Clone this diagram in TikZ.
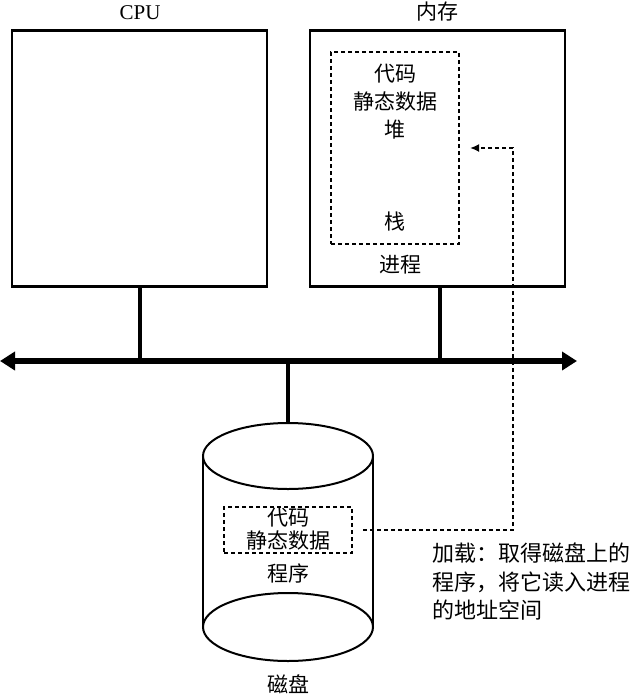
\documentclass[tikz,border=0pt]{standalone}
\usepackage{fontspec}
\setmainfont{Liberation Serif}
\newfontfamily\cjk{Noto Sans CJK SC}
\usetikzlibrary{arrows.meta,positioning,calc}
\definecolor{ink}{HTML}{000000}
\newcommand{\BoxW}{255pt}
\newcommand{\BoxH}{256pt}
\newcommand{\BusY}{361}

\begin{document}
\begin{tikzpicture}[x=1pt, y=-1pt, ink,
  box/.style={draw, line width=2.4pt, minimum width=\BoxW, minimum height=\BoxH, inner sep=0pt},
  segbox/.style={draw, line width=2pt, dash pattern=on 4pt off 3pt, inner sep=0pt},
  cn/.style={font=\cjk\fontsize{21}{28}\selectfont, inner sep=0pt, align=center},
  load/.style={line width=1.9pt, dash pattern=on 4pt off 3pt},
  bus/.style={line width=6pt, {Triangle[length=15pt,width=18pt]}-{Triangle[length=15pt,width=18pt]}},
  stub/.style={line width=4pt}]

\useasboundingbox (0,0) rectangle (637,697);

% --- CPU and memory ------------------------------------------------------------
\node[box] (cpu) at (139.5,158.5) {};
\node[font=\fontsize{21}{24}\selectfont, inner sep=0pt] (cpulbl) at (140,13) {CPU};
\node[box] (mem) at (437.5,158.5) {};
\node[cn] (memlbl) at (437,12) {内存};

% --- The process inside memory -------------------------------------------------
\node[segbox, minimum width=128pt, minimum height=192pt] (seg) at (395,148) {};
\node[cn] (segtop) at (395,102) {代码\\静态数据\\堆};
\node[cn] (stack) at (395,222) {栈};
\node[cn] (proc) at (400,265) {进程};

% --- Bus -----------------------------------------------------------------------
\coordinate (busL) at (0,\BusY);
\coordinate (busR) at (577,\BusY);
\coordinate (disktop) at (288,423);
\draw[bus] (busL) -- (busR);
\draw[stub] (cpu.south) -- (cpu.south |- busL);
\draw[stub] ([xshift=2.5pt]mem.south) -- ([xshift=2.5pt]mem.south |- busL);
\draw[stub] (disktop) -- (disktop |- busL);

% --- Disk ----------------------------------------------------------------------
\draw[line width=2pt] (288,456) ellipse [x radius=85, y radius=33];
\draw[line width=2pt] (288,627) ellipse [x radius=85, y radius=34];
\draw[line width=2pt] (203,456) -- (203,627) (373,456) -- (373,627);
\node[segbox, minimum width=128pt, minimum height=46pt] (dseg) at (288,530) {};
\node[cn] (dcode) at (288,518) {代码};
\node[cn] (ddata) at (288,541) {静态数据};
\node[cn] (prog) at (288,573) {程序};
\node[cn] (disklbl) at (288,684) {磁盘};

% --- Loading: disk program into the process --------------------------------------
\draw[load, -{Latex[length=9pt,width=8pt]}] ([xshift=10pt]dseg.east) -| ([xshift=53pt]seg.east) -- ([xshift=10pt]seg.east);
\node[cn, font=\cjk\fontsize{22}{28.5}\selectfont, align=left, anchor=north west] (note) at (432,543) {加载：取得磁盘上的\\程序，将它读入进程\\的地址空间};

\end{tikzpicture}
\end{document}
